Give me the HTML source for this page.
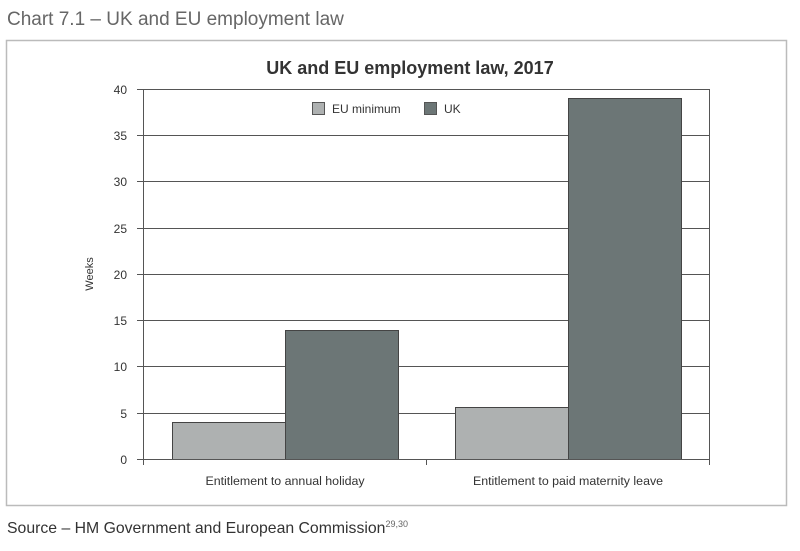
<!DOCTYPE html>
<html><head><meta charset="utf-8"><style>
body{margin:0;background:#fff;width:800px;height:546px;overflow:hidden;font-family:"Liberation Sans",sans-serif}
</style></head><body>
<svg width="800" height="546" xmlns="http://www.w3.org/2000/svg" font-family="Liberation Sans, sans-serif">
<text x="7" y="25" font-size="19" fill="#666">Chart 7.1 – UK and EU employment law</text>
<rect x="6.5" y="40.5" width="780" height="465" fill="none" stroke="#bbb" stroke-width="1.5"/>
<text x="410" y="74" font-size="18" font-weight="bold" fill="#333" text-anchor="middle">UK and EU employment law, 2017</text>
<g stroke="#555" stroke-width="1">
<line x1="137" y1="89.5" x2="710" y2="89.5"/>
<line x1="137" y1="135.5" x2="710" y2="135.5"/>
<line x1="137" y1="181.5" x2="710" y2="181.5"/>
<line x1="137" y1="228.5" x2="710" y2="228.5"/>
<line x1="137" y1="274.5" x2="710" y2="274.5"/>
<line x1="137" y1="320.5" x2="710" y2="320.5"/>
<line x1="137" y1="366.5" x2="710" y2="366.5"/>
<line x1="137" y1="413.5" x2="710" y2="413.5"/>
<line x1="143.5" y1="89" x2="143.5" y2="465"/>
<line x1="709.5" y1="89" x2="709.5" y2="465"/>
<line x1="426.5" y1="459" x2="426.5" y2="465"/>
</g>
<g fill="#aeb1b1" stroke="#444" stroke-width="1">
<rect x="172.5" y="422.5" width="113" height="37"/>
<rect x="455.5" y="407.5" width="113" height="52"/>
</g>
<g fill="#6c7676" stroke="#444" stroke-width="1">
<rect x="285.5" y="330.5" width="113" height="129"/>
<rect x="568.5" y="98.5" width="113" height="361"/>
</g>
<line x1="137" y1="459.5" x2="710" y2="459.5" stroke="#555"/>
<g font-size="12" fill="#333" text-anchor="end">
<text x="127" y="94">40</text><text x="127" y="140">35</text><text x="127" y="186">30</text>
<text x="127" y="233">25</text><text x="127" y="279">20</text><text x="127" y="325">15</text>
<text x="127" y="371">10</text><text x="127" y="418">5</text><text x="127" y="464">0</text>
</g>
<text transform="translate(93,274) rotate(-90)" font-size="11" fill="#333" text-anchor="middle">Weeks</text>
<rect x="312.5" y="102.5" width="12" height="12" fill="#aeb1b1" stroke="#555"/>
<text x="332" y="113" font-size="12" fill="#333">EU minimum</text>
<rect x="424.5" y="102.5" width="12" height="12" fill="#6c7676" stroke="#555"/>
<text x="444" y="113" font-size="12" fill="#333">UK</text>
<text x="285" y="485" font-size="12.4" fill="#333" text-anchor="middle">Entitlement to annual holiday</text>
<text x="568" y="485" font-size="12.4" fill="#333" text-anchor="middle">Entitlement to paid maternity leave</text>
<text x="7" y="533" font-size="15.8" fill="#333">Source – HM Government and European Commission<tspan font-size="9" dy="-6" fill="#666">29,30</tspan></text>
</svg>
</body></html>
